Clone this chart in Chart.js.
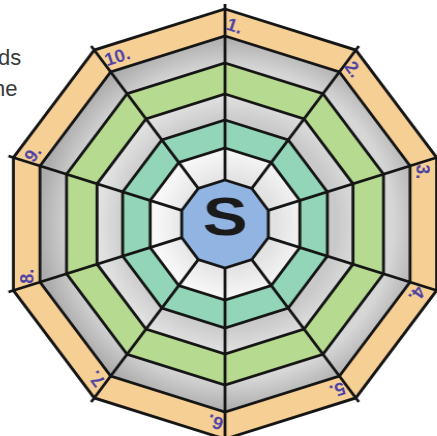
<!DOCTYPE html>
<html>
<head>
<meta charset="utf-8">
<script src="https://cdn.jsdelivr.net/npm/chart.js@4.4.0/dist/chart.umd.min.js"></script>
<style>
  html, body { margin: 0; padding: 0; background: #fff; overflow: hidden; }
  body { width: 437px; height: 436px; position: relative; }
  #wrap { position: absolute; left: 5px; top: 4px; width: 440px; height: 440px; transform: scaleX(1.035); transform-origin: 220px 220px; }
  .cut { position: absolute; font: 22px "Liberation Sans", Arial, sans-serif; color: #3a3a3a; white-space: nowrap; }
</style>
</head>
<body>
<span class="cut" style="left:-2px; top:45px;">ds</span>
<span class="cut" style="left:-7px; top:76px;">he</span>
<div id="wrap"><canvas id="web"></canvas></div>
<script>
// sectors around the web, clockwise from the top
const sectors = ['1.', '2.', '3.', '4.', '5.', '6.', '7.', '8.', '9.', '10.']

// ring outer radius (scale units), inner ring first
const ringNames = ['centre', 'white', 'teal', 'grey inner', 'green', 'grey outer', 'orange']
const ringRadius = [44, 76, 104, 130, 161, 188, 215]
// inner / outer shade of each ring
const ringInner = ['#92b4e3', '#e2e2e2', '#93d5b9', '#c9c9c9', '#b6da8f', '#d6d6d6', '#f6cf95']
const ringOuter = ['#92b4e3', '#f9f9f9', '#93d5b9', '#e2e2e2', '#b6da8f', '#acacac', '#f6cf95']

const centreText = 'S'
const labelRadius = 200

function ringFill(i) {
    return function(context) {
        const chart = context.chart
        const scale = chart.scales.r
        if (!scale || !chart.chartArea) return ringInner[i]
        const r0 = i === 0 ? 0 : scale.getDistanceFromCenterForValue(ringRadius[i - 1])
        const r1 = scale.getDistanceFromCenterForValue(ringRadius[i])
        const g = chart.ctx.createRadialGradient(scale.xCenter, scale.yCenter, 0, scale.xCenter, scale.yCenter, r1)
        g.addColorStop(0, ringInner[i])
        g.addColorStop(r0 / r1 * 0.97, ringInner[i])
        g.addColorStop(1, ringOuter[i])
        return g
    }
}

const datasets = ringRadius.map((r, i) => ({
    label: ringNames[i],
    data: sectors.map(() => r),
    backgroundColor: ringFill(i),
    borderColor: '#151515',
    borderWidth: 2.8,
    fill: 'origin',
    pointRadius: 0,
    tension: 0
}))

const webText = {
    id: 'webText',
    afterDraw(chart) {
        const scale = chart.scales.r
        const ctx = chart.ctx
        ctx.save()
        // sector numbers along the outer band
        ctx.fillStyle = '#4a40a6'
        ctx.font = 'bold 18px "Liberation Sans", Arial, sans-serif'
        ctx.textAlign = 'left'
        ctx.textBaseline = 'middle'
        sectors.forEach((s, i) => {
            const p = scale.getPointPosition(i, scale.getDistanceFromCenterForValue(labelRadius))
            ctx.save()
            ctx.translate(p.x, p.y)
            ctx.rotate(scale.getIndexAngle(i) + Math.PI / 10)
            ctx.fillText(s, 2, 0)
            ctx.restore()
        })
        // big letter in the middle
        ctx.fillStyle = '#1a1a1a'
        ctx.font = 'bold 54px "Liberation Sans", Arial, sans-serif'
        ctx.textAlign = 'center'
        ctx.textBaseline = 'alphabetic'
        ctx.translate(scale.xCenter, scale.yCenter + 11)
        ctx.scale(1.2, 1)
        ctx.fillText(centreText, 0, 0)
        ctx.restore()
    }
}

new Chart(document.getElementById('web'), {
    type: 'radar',
    data: {
        labels: sectors,
        datasets: datasets
    },
    options: {
        responsive: true,
        maintainAspectRatio: false,
        animation: false,
        layout: { padding: 0 },
        plugins: {
            legend: { display: false },
            tooltip: { enabled: false }
        },
        scales: {
            r: {
                min: 0,
                max: 220,
                ticks: { display: false },
                pointLabels: { display: false },
                grid: { display: false, z: 1 },
                angleLines: {
                    display: true,
                    color: '#151515',
                    lineWidth: 2.8,
                    borderDash: [0, 44, 400]
                }
            }
        }
    },
    plugins: [webText]
})
</script>
</body>
</html>
